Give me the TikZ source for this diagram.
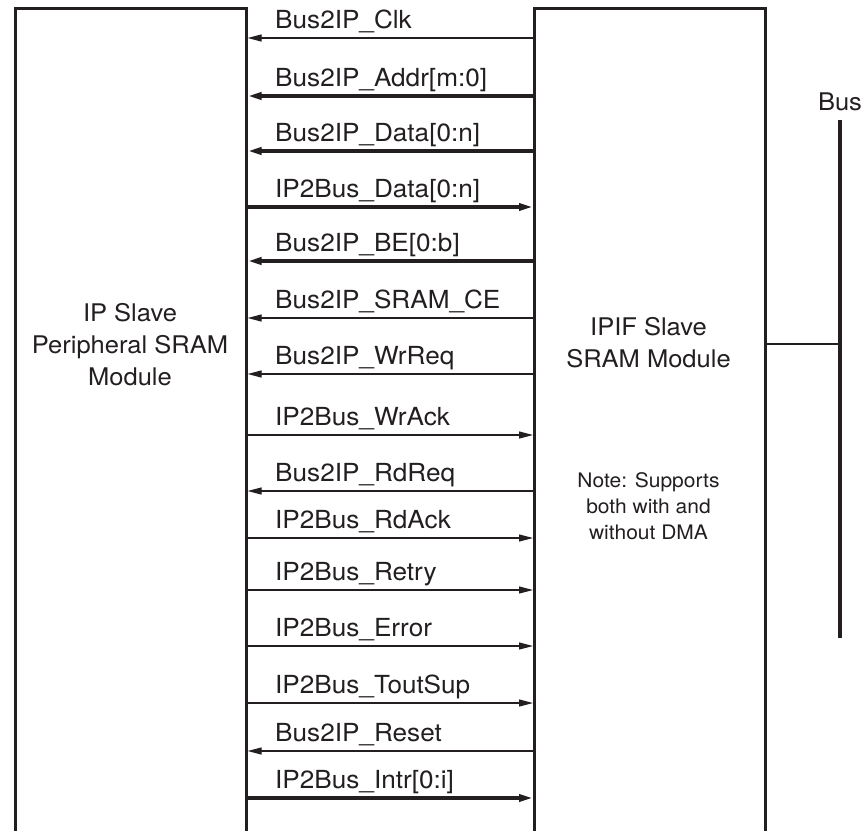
\documentclass[tikz,border=0pt]{standalone}
\usepackage{fontspec}
\setmainfont[FakeStretch=1.05]{TeX Gyre Heros}
\usetikzlibrary{arrows.meta}
\definecolor{ink}{RGB}{35,31,32}
\tikzset{
  modbox/.style={draw=ink, line width=2.6pt, minimum width=231pt, anchor=north west, inner sep=0pt},
  sig/.style={draw=ink, line width=1.2pt},
  bussig/.style={draw=ink, line width=3.4pt},
  tipin/.style={{Triangle[length=14pt,width=7pt]}-},
  tipout/.style={-{Triangle[length=14pt,width=7pt]}},
  siglabel/.style={anchor=base west, inner sep=0pt, text=ink, font=\fontsize{24.9}{30}\selectfont},
  boxtext/.style={align=center, inner sep=0pt, text=ink, font=\fontsize{24.3}{32}\selectfont},
  notetext/.style={align=center, inner sep=0pt, text=ink, font=\fontsize{20}{26}\selectfont},
}
\begin{document}
\begin{tikzpicture}[x=1pt, y=-1pt]
\path[use as bounding box, clip] (0,0) rectangle (866,830);
\fill[white] (0,0) rectangle (866,830);

% the two modules, open at the bottom of the sheet
\node[modbox, minimum height=860pt] (ip) at (14,7) {};
\node[modbox, minimum height=860pt] (ipif) at (533,7) {};

\node[boxtext] (iptext) at (130,345) {IP Slave\\Peripheral SRAM\\Module};
\node[boxtext] (ipiftext) at (648.5,343) {IPIF Slave\\SRAM Module};
\node[notetext] (note) at (648.5,506) {Note: Supports\\both with and\\without DMA};

% signals between the modules: index / name / y / direction / line style
\foreach \i/\lbl/\yy/\dirn/\sty in {
  1/Bus2IP\_Clk/38/in/sig,
  2/Bus2IP\_Addr[m:0]/96/in/bussig,
  3/Bus2IP\_Data[0:n]/151/in/bussig,
  4/IP2Bus\_Data[0:n]/207/out/bussig,
  5/Bus2IP\_BE[0:b]/261/in/bussig,
  6/Bus2IP\_SRAM\_CE/318/in/sig,
  7/Bus2IP\_WrReq/374/in/sig,
  8/IP2Bus\_WrAck/435/out/sig,
  9/Bus2IP\_RdReq/491/in/sig,
  10/IP2Bus\_RdAck/538/out/sig,
  11/IP2Bus\_Retry/590/out/sig,
  12/IP2Bus\_Error/646/out/sig,
  13/IP2Bus\_ToutSup/703/out/sig,
  14/Bus2IP\_Reset/751/in/sig,
  15/IP2Bus\_Intr[0:i]/798/out/bussig}{
  \coordinate (row\i) at (0,\yy);
  \node[siglabel] (lbl\i) at (275,\yy-9.5) {\lbl};
  \draw[\sty, tip\dirn] (ip.east |- row\i) -- (ipif.west |- row\i);
}

% system bus
\coordinate (bustop) at (840,120);
\coordinate (busbot) at (840,638);
\draw[draw=ink, line width=3.8pt] (bustop) -- (busbot);
\node[anchor=base, inner sep=0pt, text=ink, font=\fontsize{24.3}{30}\selectfont] (buslabel) at (840,110) {Bus};
\coordinate (tap) at (840,344);
\draw[draw=ink, line width=1.4pt] (ipif.east |- tap) -- (tap);
\end{tikzpicture}
\end{document}
